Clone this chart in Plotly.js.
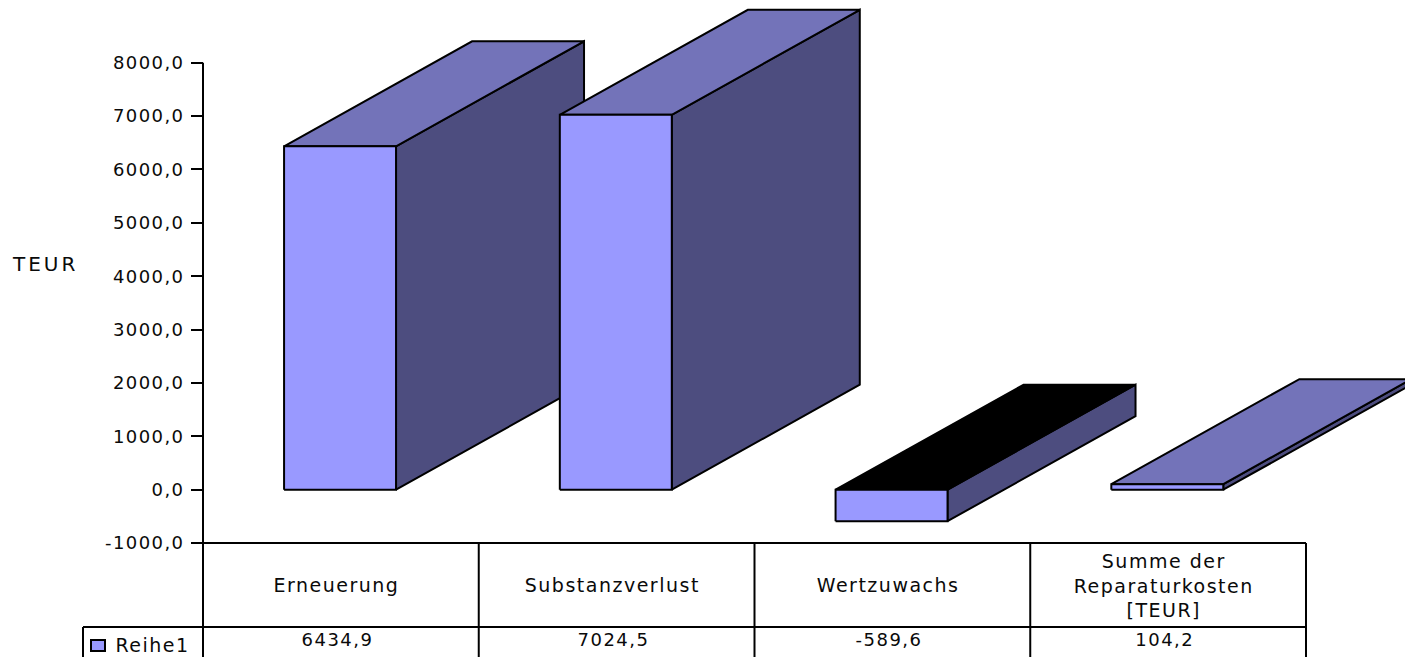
<!DOCTYPE html>
<html>
<head>
<meta charset="utf-8">
<script src="https://cdn.plot.ly/plotly-3.0.1.min.js"></script>
<style>
  html, body { margin: 0; padding: 0; background: #fff; overflow: hidden; }
  #chart { width: 1405px; height: 657px; }
  #chart .ytick text { letter-spacing: 1.4px; }
  #chart .annotation text { letter-spacing: 1.5px; }
  #chart .annotation[data-index="0"] text { letter-spacing: 3px; }
</style>
</head>
<body>
<div id="chart"></div>
<script>
// Repair cost overview: pseudo-3D columns above a small data table.
var categories = ['Erneuerung', 'Substanzverlust', 'Wertzuwachs', 'Summe der<br>Reparaturkosten<br>[TEUR]'];
var seriesName = 'Reihe1';
var seriesValues = [6434.9, 7024.5, -589.6, 104.2];
var tickValues = [8000, 7000, 6000, 5000, 4000, 3000, 2000, 1000, 0, -1000];
var tickLabels = ['8000,0', '7000,0', '6000,0', '5000,0', '4000,0', '3000,0', '2000,0', '1000,0', '0,0', '-1000,0'];
var unitLabel = 'TEUR';

var W = 1405, H = 657;
// Scale: one category cell is 275.75 px wide, 1000 units are 53.37 px tall.
var cellPx = 275.75, originX = 203, unitPx = 0.05337, zeroY = 489.7;
var xOf = function (px) { return (px - originX) / cellPx; };
var yOf = function (px) { return (zeroY - px) / unitPx; };

// Column shape in axis units.
var barInset = 0.294, barWidth = 0.406;
var depthX = 188 / cellPx, depthY = 105 / unitPx;

var FRONT = '#9999FF', TOP = '#7373B9', SIDE = '#4D4D7F', INK = '#000000', TEXT = '#0a0a0a';

function face(xs, ys, fill) {
  return {
    type: 'scatter', mode: 'lines', x: xs, y: ys,
    fill: 'toself', fillcolor: fill,
    line: { color: INK, width: 2 },
    hoverinfo: 'skip', showlegend: false
  };
}

var traces = [];
seriesValues.forEach(function (v, i) {
  var l = i + barInset, r = l + barWidth;
  var hi = Math.max(v, 0), lo = Math.min(v, 0);
  // Side, then top, then front so nearer faces paint over the rest.
  traces.push(face([r, r + depthX, r + depthX, r, r], [lo, lo + depthY, hi + depthY, hi, lo], SIDE));
  traces.push(face([l, r, r + depthX, l + depthX, l], [hi, hi, hi + depthY, hi + depthY, hi], v < 0 ? INK : TOP));
  traces.push(face([l, r, r, l, l], [lo, lo, hi, hi, lo], FRONT));
});

// Value axis line, limited to the labelled range.
traces.push({
  type: 'scatter', mode: 'lines', x: [0, 0], y: [-1000, 8000],
  line: { color: INK, width: 2 }, hoverinfo: 'skip', showlegend: false
});

// Data table rules.
var headerBottom = yOf(627), tableBottom = yOf(H);
var rule = function (x0, y0, x1, y1) {
  return { type: 'line', xref: 'x', yref: 'y', x0: x0, y0: y0, x1: x1, y1: y1, layer: 'above',
           line: { color: INK, width: 2 } };
};
var shapes = [rule(0, -1000, 4, -1000), rule(xOf(83), headerBottom, 4, headerBottom), rule(xOf(83), headerBottom, xOf(83), tableBottom)];
for (var c = 0; c <= 4; c++) shapes.push(rule(c, -1000, c, tableBottom));
shapes.push({
  type: 'rect', xref: 'x', yref: 'y', x0: xOf(91), x1: xOf(105), y0: yOf(651), y1: yOf(640), layer: 'above',
  fillcolor: FRONT, line: { color: INK, width: 2 }
});

var family = '"DejaVu Sans", sans-serif';
var font = { family: family, size: 18, color: TEXT };
var labelFont = { family: family, size: 19, color: TEXT };
var unitFont = { family: family, size: 20, color: TEXT };
function note(text, x, y, f, xanchor) {
  return { text: text, x: x, y: y, xref: 'x', yref: 'y', xanchor: xanchor || 'center', yanchor: 'middle',
           showarrow: false, font: f, borderpad: 0 };
}
var annotations = [note(unitLabel, xOf(17), yOf(264), unitFont, 'left'), note(seriesName, xOf(119), yOf(645), labelFont, 'left')];
categories.forEach(function (name, i) {
  annotations.push(note(name, i + 0.5 - 4 / cellPx, yOf(585), labelFont));
  annotations.push(note(seriesValues[i].toFixed(1).replace('.', ','), i + 0.5 - 3 / cellPx, yOf(639), font));
});

var layout = {
  width: W, height: H,
  margin: { l: 0, r: 0, t: 0, b: 0 },
  paper_bgcolor: '#fff', plot_bgcolor: '#fff',
  showlegend: false, hovermode: false,
  font: font,
  xaxis: { range: [xOf(0), xOf(W)], visible: false, fixedrange: true },
  yaxis: {
    range: [yOf(H), yOf(0)], anchor: 'free', position: originX / W, side: 'left',
    tickmode: 'array', tickvals: tickValues, ticktext: tickLabels,
    ticks: 'outside', ticklen: 12, tickwidth: 2, tickcolor: INK,
    ticklabelstandoff: 3, tickfont: font,
    showline: false, showgrid: false, zeroline: false, fixedrange: true
  },
  shapes: shapes,
  annotations: annotations
};

Plotly.newPlot('chart', traces, layout, { displayModeBar: false, staticPlot: true });
</script>
</body>
</html>
